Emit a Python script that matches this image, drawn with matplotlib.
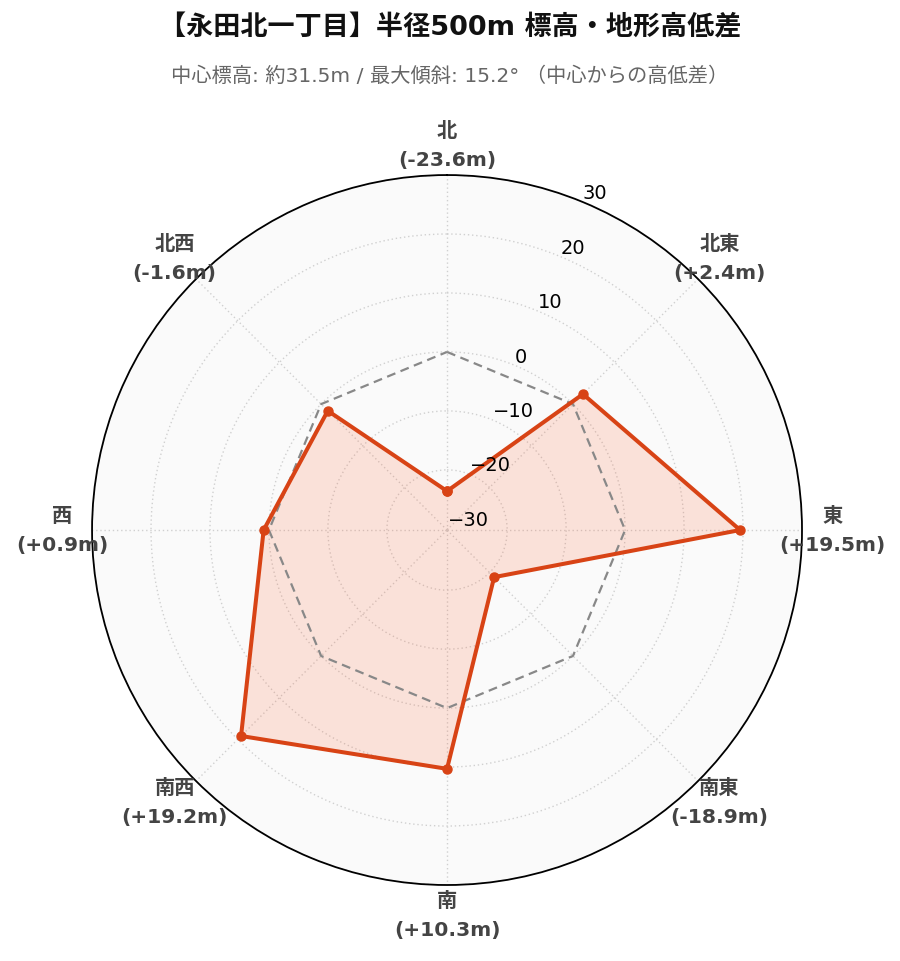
import numpy as np
import matplotlib
matplotlib.use("Agg")
import matplotlib.pyplot as plt

plt.rcParams['font.family'] = ['DejaVu Sans', 'Noto Sans CJK JP']

directions = ['北', '北東', '東', '南東', '南', '南西', '西', '北西']
diffs = [-23.6, 2.4, 19.5, -18.9, 10.3, 19.2, 0.9, -1.6]
ref_level = [0, 0, 0, 0, 0, 0, 0, 0]
rticks = [-30, -20, -10, 0, 10, 20, 30]
title = '【永田北一丁目】半径500m 標高・地形高低差'
subtitle = '中心標高: 約31.5m / 最大傾斜: 15.2° （中心からの高低差）'

line_color = '#d84315'
fill_color = '#ff5722'

fig = plt.figure(figsize=(9, 9.62), dpi=100)
ax = fig.add_axes([0.1022, 0.079, 0.789, 0.738], projection='polar')
ax.set_theta_zero_location('N')
ax.set_theta_direction(-1)
ax.set_facecolor('#fafafa')

theta = np.deg2rad(np.arange(len(directions)) * 360 / len(directions))
th_c = np.append(theta, theta[0])
d_c = np.append(diffs, diffs[0])
z_c = np.append(ref_level, ref_level[0])

ax.fill(th_c, d_c, color=fill_color, alpha=0.15, lw=0, zorder=2)
ax.plot(th_c, z_c, color='#888888', lw=1.6, ls=(0, (4, 2.5)), zorder=3)
ax.plot(th_c, d_c, color=line_color, lw=2.9, marker='o', ms=6.5, zorder=4)

ax.set_ylim(-30.2, 30)
ax.set_yticks(rticks)
ax.set_yticklabels([])
ax.set_xticks(theta)
ax.set_xticklabels([])
ax.grid(True, color='#d0d0d0', ls=(0, (1, 2)), lw=1.0)
ax.spines['polar'].set_color('black')
ax.spines['polar'].set_linewidth(1.3)

rl = np.deg2rad(22.5)
for v in rticks:
    lab = f'{v}'.replace('-', '\u2212')
    ax.text(rl, v, lab, ha='left', va='bottom', fontsize=14,
            color='black', zorder=5, transform=ax.transData)

for t, name, d in zip(theta, directions, diffs):
    x = 0.5 + 0.5 * 1.085 * np.sin(t)
    y = 0.5 + 0.5 * 1.085 * np.cos(t)
    ax.text(x, y, f'{name}\n({d:+.1f}m)', transform=ax.transAxes,
            ha='center', va='center', fontsize=14.6, fontweight='bold',
            color='#444444', linespacing=1.68)

fig.text(0.5, 1 - 28 / 962, title, ha='center', va='center',
         fontsize=19.5, fontweight='bold', color='#111111')
fig.text(0.5, 1 - 76 / 962, subtitle, ha='center', va='center',
         fontsize=14.6, color='#666666')

fig.savefig('out.png', dpi=100, facecolor='white')
